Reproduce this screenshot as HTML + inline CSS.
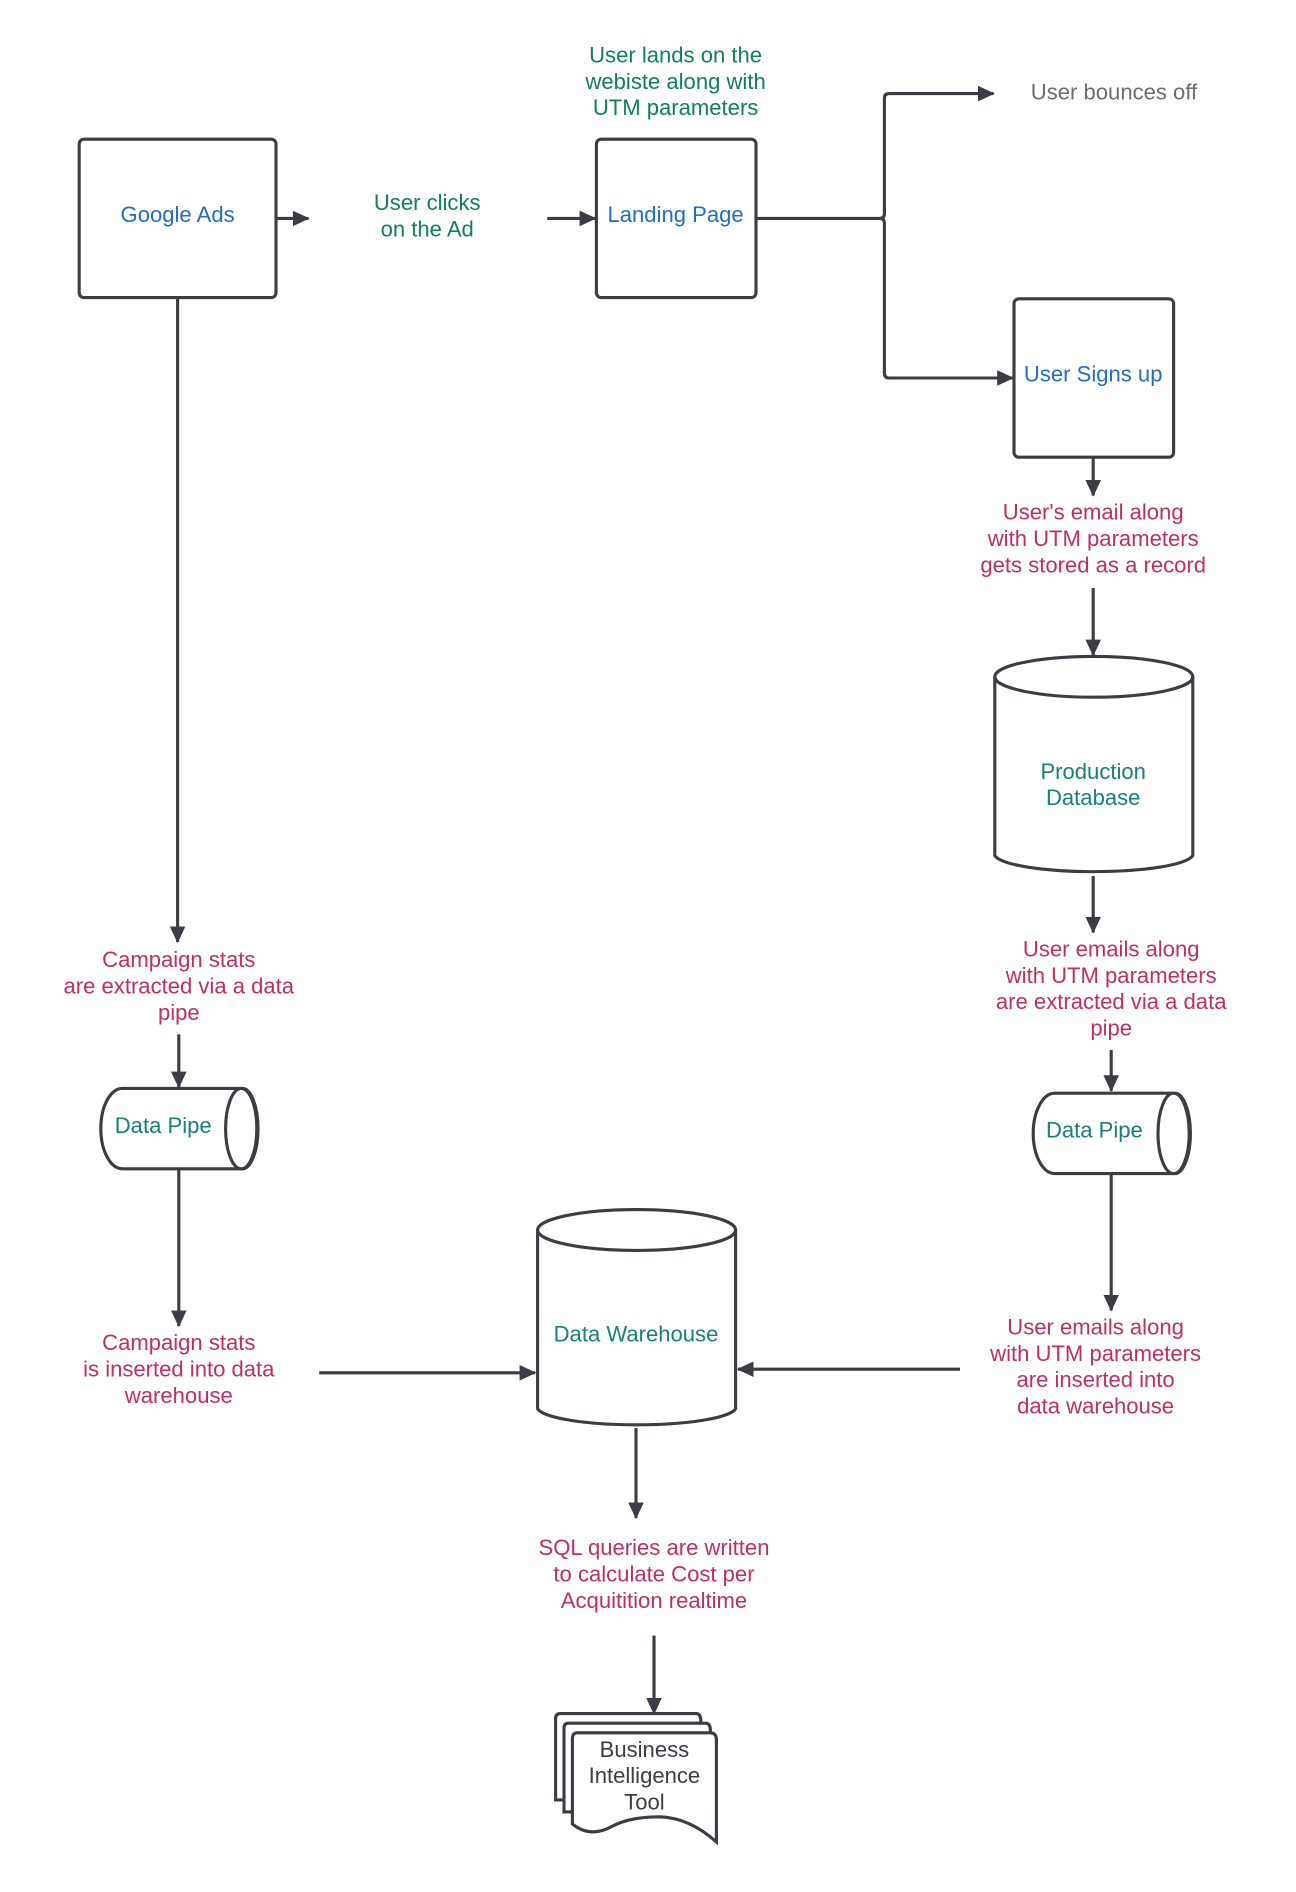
<!DOCTYPE html>
<html><head><meta charset="utf-8"><style>
html,body{margin:0;padding:0;background:#fff;}
svg{display:block;}
text{font-family:"Liberation Sans",Arial,sans-serif;font-size:18.4px;text-anchor:middle;}
.g{fill:#0f7f63}.b{fill:#1f6fc5}.r{fill:#bf2f63}.t{fill:#17807a}.k{fill:#3a3d44}.gr{fill:#6a6e74}
.s{fill:none;stroke:#3a3d44;stroke-width:2.6;}
.w{fill:#fff;stroke:#3a3d44;stroke-width:2.6;}
</style></head><body>
<svg width="1296" height="1892" viewBox="0 0 1080 1576.67" xmlns="http://www.w3.org/2000/svg">
<defs><marker id="a" markerWidth="14" markerHeight="14" refX="13" refY="6.5" orient="auto" markerUnits="userSpaceOnUse"><path d="M0,0 L14,6.5 L0,13 Z" fill="#3a3d44"/></marker></defs>

<rect x="66" y="116" width="164" height="132" rx="4" class="w"/>
<text x="148" y="185" class="b">Google Ads</text>
<line x1="230" y1="182" x2="257" y2="182" class="s" marker-end="url(#a)"/>
<text x="356" y="175" class="g">User clicks</text>
<text x="356" y="197" class="g">on the Ad</text>
<line x1="456" y1="182" x2="496" y2="182" class="s" marker-end="url(#a)"/>

<rect x="497" y="116" width="133" height="132" rx="4" class="w"/>
<text x="563" y="185" class="b">Landing Page</text>
<text x="563" y="52" class="g">User lands on the</text>
<text x="563" y="74" class="g">webiste along with</text>
<text x="563" y="96" class="g">UTM parameters</text>
<path d="M630,182 H733 Q737,182 737,178 V82 Q737,78 741,78 H828" class="s" marker-end="url(#a)"/>
<path d="M733,182 Q737,182 737,186 V311 Q737,315 741,315 H844" class="s" marker-end="url(#a)"/>
<text x="859" y="83" class="gr" style="text-anchor:start">User bounces off</text>

<rect x="845" y="249" width="133" height="132" rx="4" class="w"/>
<text x="911" y="318" class="b">User Signs up</text>
<line x1="911" y1="381" x2="911" y2="413" class="s" marker-end="url(#a)"/>
<text x="911" y="433" class="r">User's email along</text>
<text x="911" y="455" class="r">with UTM parameters</text>
<text x="911" y="477" class="r">gets stored as a record</text>
<line x1="911" y1="490" x2="911" y2="546" class="s" marker-end="url(#a)"/>

<path d="M829,564 V713 A83,15 0 0 0 994,713 V564" class="w"/>
<ellipse cx="911.5" cy="564" rx="82.5" ry="17" class="w"/>
<text x="911" y="649" class="t">Production</text>
<text x="911" y="671" class="t">Database</text>
<line x1="911" y1="730" x2="911" y2="777" class="s" marker-end="url(#a)"/>
<text x="926" y="797" class="r">User emails along</text>
<text x="926" y="819" class="r">with UTM parameters</text>
<text x="926" y="841" class="r">are extracted via a data</text>
<text x="926" y="863" class="r">pipe</text>
<line x1="926" y1="875" x2="926" y2="909" class="s" marker-end="url(#a)"/>

<path d="M879,911 H979 A13,33.5 0 0 1 979,978 H879 A18,33.5 0 0 1 879,911 Z" class="w"/>
<ellipse cx="978" cy="944.5" rx="13" ry="33.5" class="w"/>
<text x="912" y="948" class="t">Data Pipe</text>
<line x1="926" y1="978" x2="926" y2="1092" class="s" marker-end="url(#a)"/>
<text x="913" y="1112" class="r">User emails along</text>
<text x="913" y="1134" class="r">with UTM parameters</text>
<text x="913" y="1156" class="r">are inserted into</text>
<text x="913" y="1178" class="r">data warehouse</text>
<line x1="800" y1="1141" x2="615" y2="1141" class="s" marker-end="url(#a)"/>

<line x1="148" y1="248" x2="148" y2="785" class="s" marker-end="url(#a)"/>
<text x="149" y="806" class="r">Campaign stats</text>
<text x="149" y="828" class="r">are extracted via a data</text>
<text x="149" y="850" class="r">pipe</text>
<line x1="149" y1="862" x2="149" y2="906" class="s" marker-end="url(#a)"/>
<path d="M102,907 H202 A13,33.5 0 0 1 202,974 H102 A18,33.5 0 0 1 102,907 Z" class="w"/>
<ellipse cx="201" cy="940.5" rx="13" ry="33.5" class="w"/>
<text x="136" y="944" class="t">Data Pipe</text>
<line x1="149" y1="974" x2="149" y2="1105" class="s" marker-end="url(#a)"/>
<text x="149" y="1125" class="r">Campaign stats</text>
<text x="149" y="1147" class="r">is inserted into data</text>
<text x="149" y="1169" class="r">warehouse</text>
<line x1="266" y1="1144" x2="446" y2="1144" class="s" marker-end="url(#a)"/>

<path d="M448,1025 V1174 A83,15 0 0 0 613,1174 V1025" class="w"/>
<ellipse cx="530.5" cy="1025" rx="82.5" ry="17" class="w"/>
<text x="530" y="1118" class="t">Data Warehouse</text>
<line x1="530" y1="1190" x2="530" y2="1265" class="s" marker-end="url(#a)"/>
<text x="545" y="1296" class="r">SQL queries are written</text>
<text x="545" y="1318" class="r">to calculate Cost per</text>
<text x="545" y="1340" class="r">Acquitition realtime</text>
<line x1="545" y1="1363" x2="545" y2="1428" class="s" marker-end="url(#a)"/>

<path d="M463,1432 Q463,1428 467,1428 H580 Q584,1428 584,1434 V1500 L463,1500 Z" class="w"/>
<path d="M470,1440 Q470,1436 474,1436 H588 Q592,1436 592,1442 V1510 L470,1510 Z" class="w"/>
<path d="M477,1449 Q477,1444 481,1444 H592 Q597,1444 597,1450 V1535 Q575,1515 550,1514 Q525,1514 510,1522 Q492,1532 477,1520 Z" class="w"/>
<text x="537" y="1464" class="k">Business</text>
<text x="537" y="1486" class="k">Intelligence</text>
<text x="537" y="1508" class="k">Tool</text>
</svg>
</body></html>
